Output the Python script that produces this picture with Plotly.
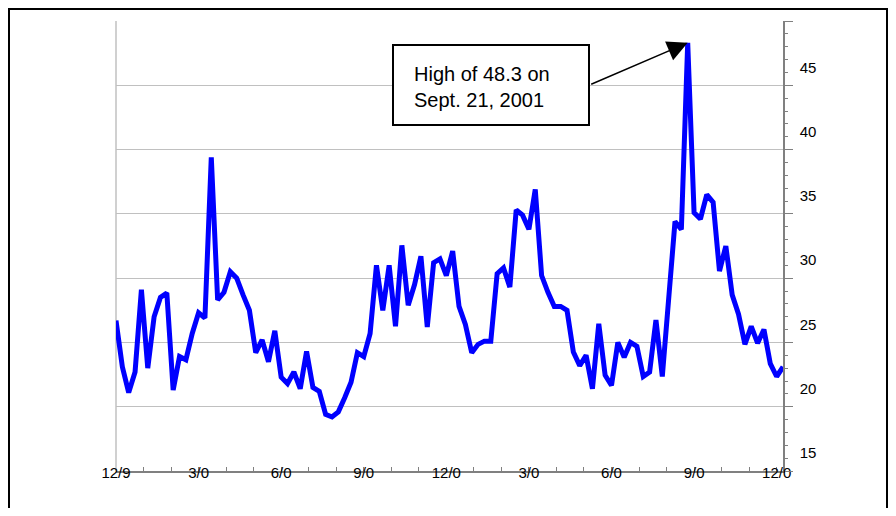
import plotly.graph_objects as go

# Weekly index values, Dec 1999 - Dec 2001
vix = [26.7, 23.1, 21.1, 22.7, 29.1, 23.0, 27.0, 28.5, 28.85, 21.3,
       23.9, 23.65, 25.7, 27.3, 26.9, 39.4, 28.3, 28.9, 30.5, 30.0,
       28.7, 27.5, 24.2, 25.2, 23.5, 25.9, 22.3, 21.8, 22.7, 21.4,
       24.3, 21.5, 21.2, 19.4, 19.2, 19.6, 20.7, 21.9, 24.2, 23.9,
       25.7, 31.0, 27.5, 31.0, 26.25, 32.55, 27.9, 29.5, 31.7, 26.2,
       31.2, 31.5, 30.2, 32.1, 27.8, 26.4, 24.2, 24.85, 25.1, 25.1,
       30.35, 30.8, 29.3, 35.3, 34.9, 33.8, 36.9, 30.2, 28.9, 27.8,
       27.8, 27.5, 24.25, 23.2, 24.0, 21.4, 26.45, 22.45, 21.65, 25.0,
       23.85, 25.0, 24.7, 22.35, 22.7, 26.75, 22.35, 28.3, 34.4, 33.8,
       48.3, 35.1, 34.6, 36.5, 35.9, 30.55, 32.5, 28.7, 27.2, 24.85,
       26.25, 24.95, 26.0, 23.35, 22.35, 23.1]
weeks = list(range(len(vix)))

x_tick_weeks = [0, 13, 26, 39, 52, 65, 78, 91, 104]
x_tick_labels = ["12/9", "3/0", "6/0", "9/0", "12/0", "3/0", "6/0", "9/0", "12/0"]
y_tick_values = [15, 20, 25, 30, 35, 40, 45, 50]
y_tick_labels = ["15", "20", "25", "30", "35", "40", "45", ""]
note_lines = ["High of 48.3 on", "Sept. 21, 2001"]

peak_idx = max(weeks, key=lambda i: vix[i])

FONT = "Arial, Liberation Sans, Helvetica, sans-serif"

fig = go.Figure()
fig.add_trace(go.Scatter(
    x=weeks, y=vix, mode="lines",
    line=dict(color="#0000FF", width=5),
    hoverinfo="skip", showlegend=False,
))

# figure sits at an 8px page offset (body margin)
OFF = 8
W, H = 880, 500
L, R, T, B = 108, 105, 13, 37
pw, ph = W - L - R, H - T - B

def px(xp):
    return (xp - OFF - L) / pw

def py(yp):
    return (H - B - (yp - OFF)) / ph

fig.update_layout(
    width=W, height=H,
    margin=dict(l=L, r=R, t=T, b=B, pad=0),
    paper_bgcolor="white", plot_bgcolor="white",
    font=dict(family=FONT, size=15, color="black"),
    xaxis=dict(
        range=[0, len(vix) - 1],
        tickmode="array", tickvals=x_tick_weeks, ticktext=x_tick_labels,
        ticks="inside", ticklen=4, tickcolor="#808080", tickwidth=1,
        showgrid=False, zeroline=False,
        showline=True, linecolor="#808080", linewidth=1.5,
        minor=dict(tickmode="linear", tick0=0, dtick=13 / 3, ticks="inside",
                   ticklen=4, tickcolor="#808080", showgrid=False),
        ticklabelstandoff=-13,
        tickfont=dict(size=15),
    ),
    yaxis=dict(
        range=[15, 50], side="right",
        tickmode="array", tickvals=y_tick_values, ticktext=y_tick_labels,
        ticks="outside", ticklen=8, tickcolor="#808080", tickwidth=1,
        showgrid=True, gridcolor="#C0C0C0", gridwidth=1,
        zeroline=False,
        showline=True, linecolor="#808080", linewidth=1.5,
        minor=dict(tickmode="linear", tick0=15, dtick=1, ticks="outside",
                   ticklen=3, tickcolor="#808080", showgrid=False),
        ticklabelshift=-18, ticklabelstandoff=4,
        tickfont=dict(size=15),
    ),
)

# plot area left border (light gray)
fig.add_shape(type="line", xref="paper", yref="paper", x0=0, x1=0, y0=0, y1=1,
              line=dict(color="#C0C0C0", width=1.5), layer="below")
# outer black frame
fig.add_shape(type="rect", xref="paper", yref="paper",
              x0=px(9), x1=px(887), y0=py(540), y1=py(9),
              line=dict(color="black", width=2), fillcolor="rgba(0,0,0,0)")
# callout box
fig.add_shape(type="rect", xref="paper", yref="paper",
              x0=px(393), x1=px(589), y0=py(125), y1=py(45),
              line=dict(color="black", width=2), fillcolor="white")
fig.add_annotation(xref="paper", yref="paper", x=px(412), y=py(87),
                   xanchor="left", yanchor="middle", align="left",
                   text="<br>".join(note_lines), showarrow=False,
                   font=dict(size=20, color="black", family=FONT))
# arrow to the peak
fig.add_annotation(x=peak_idx, y=vix[peak_idx], xref="x", yref="y",
                   text="", showarrow=True, arrowhead=2, arrowsize=2.7,
                   arrowwidth=1.5, arrowcolor="black", standoff=0,
                   ax=-98, ay=42)

fig.write_html("out.html")
